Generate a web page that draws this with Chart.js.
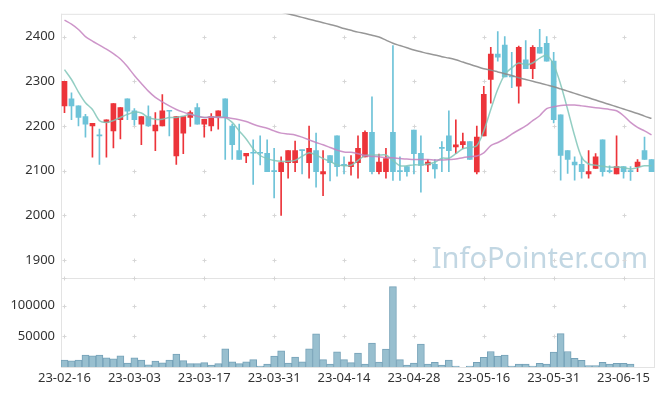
<!DOCTYPE html>
<html lang="ko">
  <head>
    <meta charset="utf-8" />
    <title>Candle chart</title>
    <style>
      * {
        margin: 0;
        padding: 0;
      }
      body {
        background: #fff;
      }
      .chartBox {
        width: 665px;
        height: 396px;
      }
    </style>
  </head>
  <body>
    <div class="chartBox">
      <canvas id="myChart" width="665" height="396"></canvas>
    </div>

    <script src="https://cdn.jsdelivr.net/npm/chart.js"></script>

    <script>
      // trading days
      const dates = [
        "23-02-16", "23-02-17", "23-02-20", "23-02-21", "23-02-22", "23-02-23", "23-02-24", "23-02-27", "23-02-28", "23-03-02",
        "23-03-03", "23-03-06", "23-03-07", "23-03-08", "23-03-09", "23-03-10", "23-03-13", "23-03-14", "23-03-15", "23-03-16",
        "23-03-17", "23-03-20", "23-03-21", "23-03-22", "23-03-23", "23-03-24", "23-03-27", "23-03-28", "23-03-29", "23-03-30",
        "23-03-31", "23-04-03", "23-04-04", "23-04-05", "23-04-06", "23-04-07", "23-04-10", "23-04-11", "23-04-12", "23-04-13",
        "23-04-14", "23-04-17", "23-04-18", "23-04-19", "23-04-20", "23-04-21", "23-04-24", "23-04-25", "23-04-26", "23-04-27",
        "23-04-28", "23-05-02", "23-05-03", "23-05-04", "23-05-08", "23-05-09", "23-05-10", "23-05-11", "23-05-12", "23-05-15",
        "23-05-16", "23-05-17", "23-05-18", "23-05-19", "23-05-22", "23-05-23", "23-05-24", "23-05-25", "23-05-26", "23-05-30",
        "23-05-31", "23-06-01", "23-06-02", "23-06-05", "23-06-07", "23-06-08", "23-06-09", "23-06-12", "23-06-13", "23-06-14",
        "23-06-15", "23-06-16", "23-06-19", "23-06-20", "23-06-21",
      ];

      const open = [
        2245, 2261, 2245, 2221, 2200, 2179, 2208, 2189, 2214, 2261,
        2234, 2204, 2221, 2189, 2200, 2234, 2133, 2184, 2219, 2241,
        2204, 2200, 2220, 2261, 2200, 2145, 2133, 2140, 2140, 2139,
        2099, 2098, 2118, 2118, 2146, 2118, 2145, 2093, 2134, 2178,
        2114, 2109, 2118, 2131, 2186, 2098, 2098, 2186, 2099, 2109,
        2191, 2139, 2113, 2114, 2151, 2178, 2153, 2158, 2165, 2097,
        2178, 2304, 2361, 2381, 2312, 2289, 2348, 2328, 2376, 2385,
        2345, 2225, 2145, 2119, 2114, 2093, 2105, 2169, 2099, 2093,
        2109, 2099, 2109, 2145, 2125,
      ];
      const high = [
        2300, 2274, 2245, 2226, 2206, 2193, 2214, 2250, 2241, 2261,
        2239, 2221, 2245, 2230, 2270, 2234, 2221, 2221, 2234, 2250,
        2215, 2228, 2234, 2261, 2204, 2204, 2139, 2169, 2178, 2169,
        2150, 2131, 2145, 2166, 2146, 2200, 2184, 2145, 2134, 2178,
        2131, 2134, 2178, 2189, 2265, 2137, 2150, 2380, 2131, 2109,
        2191, 2178, 2125, 2125, 2165, 2234, 2214, 2184, 2165, 2200,
        2289, 2376, 2411, 2400, 2365, 2379, 2391, 2380, 2416, 2400,
        2365, 2225, 2145, 2131, 2131, 2145, 2138, 2169, 2111, 2178,
        2109, 2109, 2125, 2175, 2125,
      ];
      const low = [
        2230, 2214, 2200, 2175, 2130, 2114, 2130, 2151, 2171, 2214,
        2202, 2158, 2199, 2145, 2200, 2178, 2114, 2138, 2199, 2204,
        2175, 2189, 2193, 2125, 2125, 2125, 2118, 2069, 2113, 2098,
        2039, 2000, 2083, 2098, 2093, 2083, 2063, 2044, 2077, 2088,
        2093, 2090, 2083, 2131, 2093, 2093, 2083, 2078, 2078, 2088,
        2093, 2052, 2098, 2083, 2098, 2098, 2138, 2149, 2125, 2093,
        2178, 2251, 2345, 2310, 2286, 2251, 2328, 2306, 2363, 2345,
        2207, 2079, 2094, 2079, 2083, 2083, 2105, 2088, 2095, 2093,
        2083, 2078, 2098, 2125, 2098,
      ];
      const close = [
        2300, 2245, 2219, 2204, 2206, 2178, 2214, 2250, 2241, 2233,
        2214, 2221, 2200, 2202, 2234, 2233, 2221, 2221, 2230, 2204,
        2215, 2221, 2234, 2219, 2158, 2125, 2139, 2139, 2139, 2098,
        2098, 2118, 2145, 2145, 2145, 2150, 2098, 2098, 2118, 2109,
        2111, 2119, 2150, 2186, 2098, 2119, 2127, 2098, 2098, 2098,
        2138, 2112, 2119, 2104, 2150, 2145, 2158, 2165, 2125, 2175,
        2271, 2361, 2354, 2310, 2310, 2376, 2328, 2376, 2363, 2345,
        2214, 2134, 2125, 2113, 2098, 2098, 2131, 2098, 2098, 2109,
        2098, 2098, 2119, 2125, 2098,
      ];

      const volume = [
        11300, 10000, 11300, 19400, 18000, 19400, 14800, 13200, 18000, 6500,
        14800, 11300, 3500, 9700, 6800, 11300, 21000, 10300, 5400, 5400,
        7000, 3200, 5400, 29700, 8600, 5400, 8600, 11900, 1600, 4900,
        17800, 26500, 6500, 16200, 8600, 29700, 54000, 11900, 4900, 24900,
        11900, 7000, 22700, 4900, 38900, 8100, 29200, 131000, 11900, 3200,
        6500, 37300, 4800, 7500, 3200, 11300, 1600, 0, 1600, 7500,
        15600, 25300, 17700, 19300, 1600, 4800, 4800, 1600, 6000, 4800,
        24200, 54300, 25300, 14000, 10800, 2200, 2200, 7500, 4800, 6000,
        6000, 4800, null, null, null,
      ];

      // moving averages
      const ma5 = [
        2326, 2304, 2276, 2252, 2237, 2212, 2208, 2212, 2219, 2226,
        2231, 2229, 2219, 2215, 2215, 2219, 2219, 2222, 2226, 2222,
        2219, 2220, 2220, 2219, 2208, 2189, 2171, 2149, 2134, 2127,
        2123, 2121, 2121, 2123, 2132, 2140, 2135, 2127, 2121, 2113,
        2111, 2112, 2123, 2134, 2135, 2135, 2135, 2123, 2111, 2111,
        2113, 2113, 2115, 2119, 2128, 2128, 2138, 2149, 2152, 2156,
        2189, 2237, 2282, 2315, 2330, 2341, 2337, 2341, 2352, 2358,
        2337, 2293, 2237, 2178, 2130, 2115, 2112, 2110, 2108, 2108,
        2107, 2104, 2107, 2111, 2111,
      ];
      const ma20 = [
        2437, 2428, 2416, 2400, 2390, 2381, 2372, 2362, 2350, 2333,
        2313, 2295, 2278, 2264, 2254, 2245, 2237, 2231, 2226, 2222,
        2219, 2220, 2219, 2219, 2217, 2214, 2210, 2204, 2199, 2195,
        2189, 2184, 2182, 2180, 2175, 2169, 2163, 2158, 2152, 2146,
        2142, 2141, 2138, 2134, 2132, 2131, 2129, 2129, 2127, 2126,
        2125, 2125, 2125, 2124, 2124, 2125, 2126, 2129, 2131, 2133,
        2140, 2156, 2163, 2171, 2182, 2191, 2200, 2212, 2223, 2239,
        2243, 2246, 2247, 2247, 2245, 2243, 2241, 2239, 2237, 2234,
        2223, 2208, 2197, 2189, 2180,
      ];
      const ma60 = [
        null, null, null, null, null, null, null, null, null, null,
        null, null, null, null, null, null, null, null, null, null,
        null, null, null, null, null, null, null, null, null, null,
        2459, 2455, 2451, 2447, 2443, 2439, 2435, 2431, 2427, 2423,
        2418, 2414, 2410, 2407, 2403, 2399, 2392, 2385, 2380, 2375,
        2370, 2366, 2362, 2359, 2355, 2352, 2348, 2343, 2338, 2333,
        2328, 2325, 2321, 2317, 2313, 2308, 2304, 2300, 2296, 2292,
        2288, 2283, 2278, 2273, 2268, 2263, 2258, 2253, 2248, 2243,
        2238, 2233, 2228, 2222, 2217,
      ];

      const priceTicks = [1900, 2000, 2100, 2200, 2300, 2400];
      const volumeTicks = [50000, 100000];

      const UP = "rgb(236, 52, 58)";
      const DOWN = "rgb(110, 195, 216)";
      const candleColor = open.map((o, i) => (close[i] > o ? UP : DOWN));

      // crosses, borders and watermark
      const panelDecor = {
        id: "panelDecor",
        beforeDatasetsDraw(chart) {
          const {
            ctx,
            chartArea: { left, right, top, bottom },
            scales: { x, y, vol },
          } = chart;
          ctx.save();

          // watermark
          ctx.font = "29px 'Noto Sans'";
          ctx.fillStyle = "rgb(194, 215, 227)";
          ctx.textAlign = "right";
          ctx.textBaseline = "alphabetic";
          ctx.fillText("InfoPointer.com", right - 7, y.bottom - 10);

          // frame
          ctx.strokeStyle = "#e3e3e3";
          ctx.lineWidth = 1;
          ctx.beginPath();
          ctx.moveTo(left + 0.5, top);
          ctx.lineTo(left + 0.5, bottom);
          ctx.moveTo(left, top + 0.5);
          ctx.lineTo(right, top + 0.5);
          ctx.moveTo(right - 0.5, top);
          ctx.lineTo(right - 0.5, bottom);
          ctx.moveTo(left, Math.round(y.bottom) + 0.5);
          ctx.lineTo(right, Math.round(y.bottom) + 0.5);
          ctx.moveTo(left, bottom + 0.5);
          ctx.lineTo(right, bottom + 0.5);
          ctx.stroke();

          // little "+" marks on the grid
          const rows = priceTicks.map((v) => y.getPixelForValue(v));
          volumeTicks.forEach((v) => rows.push(vol.getPixelForValue(v)));
          rows.push(y.bottom);
          ctx.strokeStyle = "#d6d6d6";
          ctx.beginPath();
          for (let i = 0; i < dates.length; i += 10) {
            const cx = Math.round(x.getPixelForValue(i)) + 0.5;
            rows.forEach((ry) => {
              const cy = Math.round(ry) + 0.5;
              ctx.moveTo(cx - 2, cy);
              ctx.lineTo(cx + 2, cy);
              ctx.moveTo(cx, cy - 2);
              ctx.lineTo(cx, cy + 2);
            });
          }
          ctx.stroke();
          ctx.restore();
        },
      };

      const tickFont = { family: "'Noto Sans', sans-serif", size: 13 };
      const noGrid = { display: false, drawTicks: false, tickLength: 0 };

      const config = {
        type: "bar",
        data: {
          labels: dates,
          datasets: [
            {
              type: "line",
              data: ma60,
              yAxisID: "y",
              borderColor: "rgba(140, 140, 140, 0.9)",
              borderWidth: 1.5,
              pointRadius: 0,
              tension: 0.3,
              order: 0,
            },
            {
              type: "line",
              data: ma20,
              yAxisID: "y",
              borderColor: "rgba(196, 130, 192, 0.85)",
              borderWidth: 1.5,
              pointRadius: 0,
              tension: 0.3,
              order: 0,
            },
            {
              type: "line",
              data: ma5,
              yAxisID: "y",
              borderColor: "rgba(128, 198, 184, 0.85)",
              borderWidth: 1.5,
              pointRadius: 0,
              tension: 0.3,
              order: 0,
            },
            {
              // wicks
              data: low.map((l, i) => [l, high[i]]),
              yAxisID: "y",
              backgroundColor: candleColor,
              barThickness: 1,
              grouped: false,
              order: 2,
            },
            {
              // bodies
              data: open.map((o, i) => [o, close[i]]),
              yAxisID: "y",
              backgroundColor: candleColor,
              barThickness: 5,
              minBarLength: 1,
              grouped: false,
              order: 1,
            },
            {
              data: volume,
              yAxisID: "vol",
              backgroundColor: "rgb(152, 191, 207)",
              borderColor: "rgb(118, 162, 184)",
              borderWidth: 1,
              barPercentage: 1,
              categoryPercentage: 1,
              grouped: false,
              order: 3,
            },
          ],
        },
        options: {
          responsive: false,
          animation: false,
          layout: { padding: { top: 10, right: 10, bottom: 10, left: 0 } },
          plugins: {
            legend: { display: false },
            tooltip: { enabled: false },
          },
          scales: {
            x: {
              grid: noGrid,
              border: { display: false },
              afterFit: (axis) => {
                axis.height = 19;
              },
              ticks: {
                autoSkip: false,
                maxRotation: 0,
                minRotation: 0,
                padding: 3,
                color: "#333",
                font: tickFont,
                callback: (v, i) => (i % 10 === 0 ? dates[i] : null),
              },
            },
            vol: {
              position: "left",
              stack: "panels",
              stackWeight: 90,
              min: 0,
              max: 145000,
              grid: noGrid,
              border: { display: false },
              afterBuildTicks: (axis) => {
                axis.ticks = volumeTicks.map((v) => ({ value: v }));
              },
              afterFit: (axis) => {
                axis.width = 61;
              },
              ticks: {
                padding: 6,
                color: "#333",
                font: tickFont,
                callback: (v) => String(v),
              },
            },
            y: {
              position: "left",
              stack: "panels",
              stackWeight: 267,
              min: 1860,
              max: 2451,
              grid: noGrid,
              border: { display: false },
              afterBuildTicks: (axis) => {
                axis.ticks = priceTicks.map((v) => ({ value: v }));
              },
              afterFit: (axis) => {
                axis.width = 61;
              },
              ticks: {
                padding: 6,
                color: "#333",
                font: tickFont,
                callback: (v) => String(v),
              },
            },
          },
        },
        plugins: [panelDecor],
      };

      const myChart = new Chart(document.getElementById("myChart"), config);
    </script>
  </body>
</html>
